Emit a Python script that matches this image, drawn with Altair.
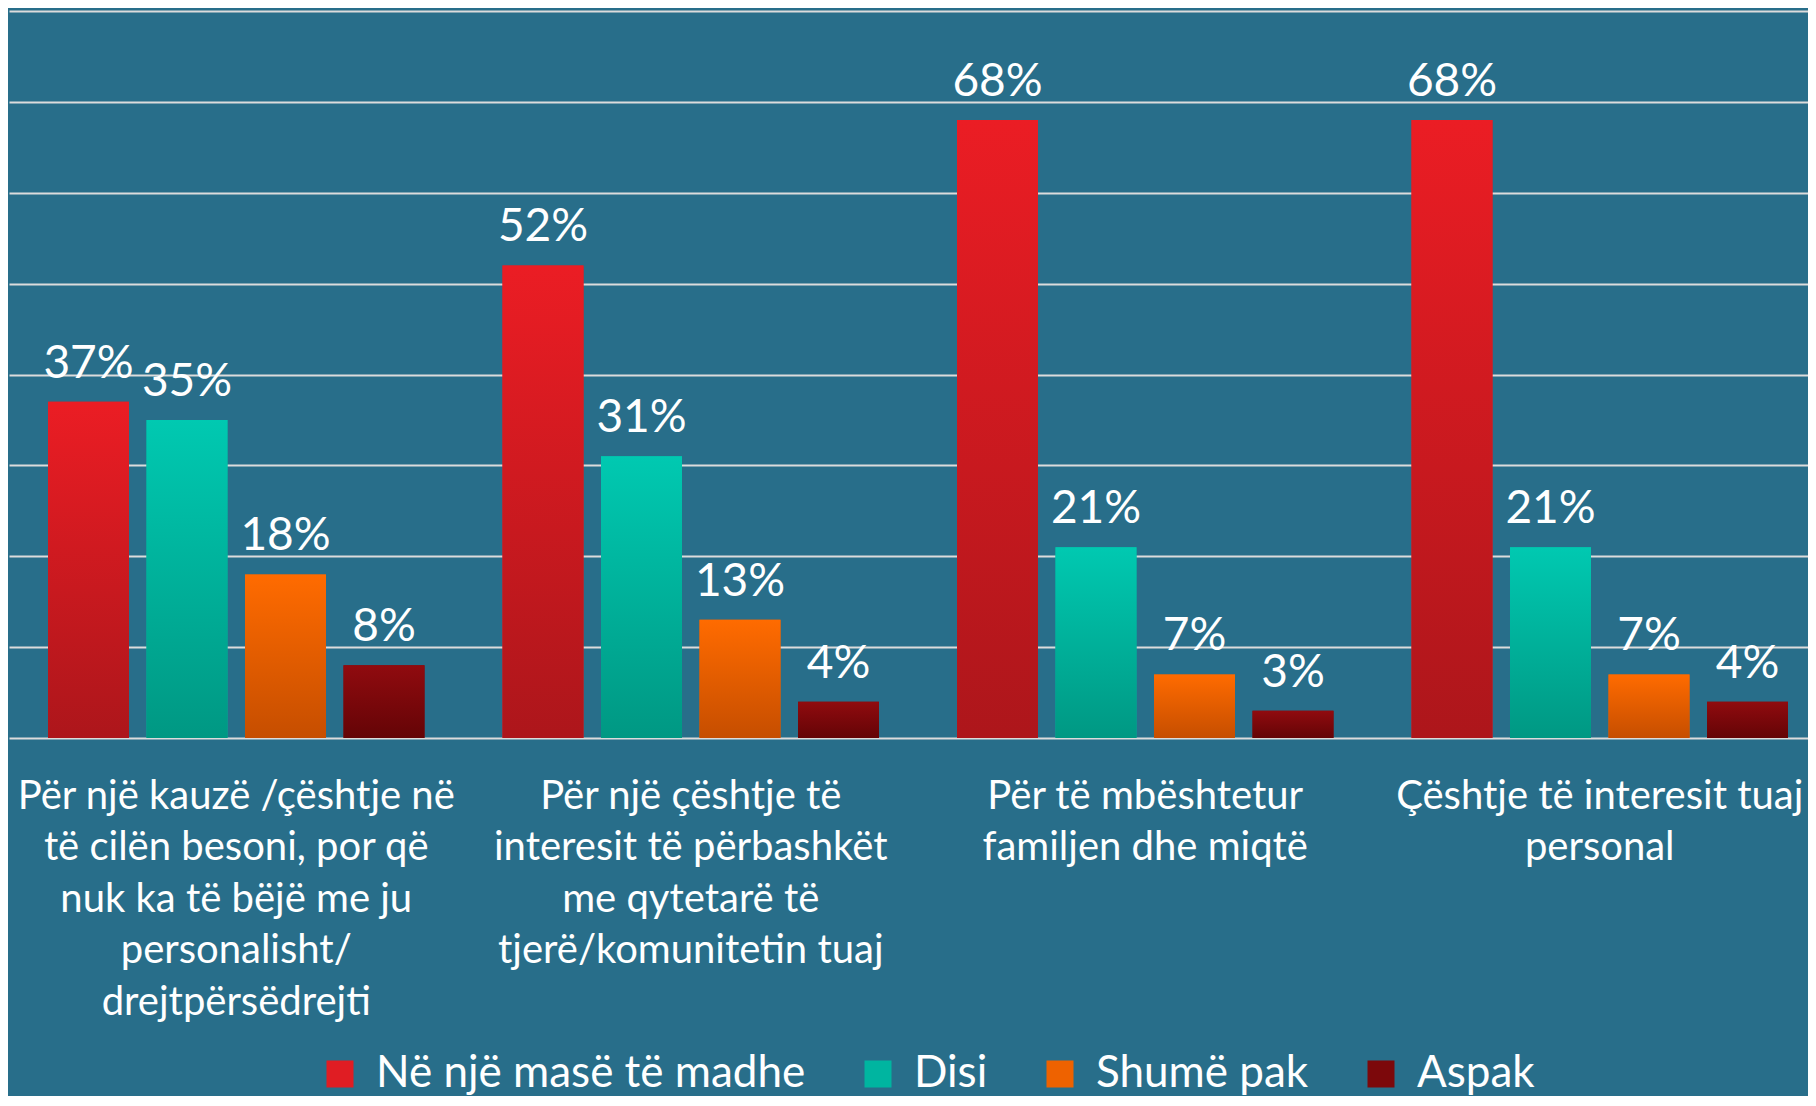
import altair as alt
import pandas as pd

categories = [
    "Për një kauzë /çështje në|të cilën besoni, por që|nuk ka të bëjë me ju|personalisht/|drejtpërsëdrejti",
    "Për një çështje të|interesit të përbashkët|me qytetarë të|tjerë/komunitetin tuaj",
    "Për të mbështetur|familjen dhe miqtë",
    "Çështje të interesit tuaj|personal",
]
series = ["Në një masë të madhe", "Disi", "Shumë pak", "Aspak"]
v_madhe = [37, 52, 68, 68]
v_disi = [35, 31, 21, 21]
v_pak = [18, 13, 7, 7]
v_aspak = [8, 4, 3, 4]
values = [v_madhe, v_disi, v_pak, v_aspak]

solid = ["#e01d23", "#00b5a0", "#ee6200", "#7c080b"]
grad_top = ["#eb1d24", "#00c9b1", "#ff6b00", "#900b0f"]
grad_bot = ["#ad161b", "#009883", "#c64e00", "#640406"]

rows = []
for s, vals in zip(series, values):
    for c, v in zip(categories, vals):
        rows.append({"category": c, "series": s, "value": v / 100, "label": f"{v}%"})
df = pd.DataFrame(rows)

FONT = "Lato"

x_enc = alt.X(
    "category:N",
    sort=categories,
    scale=alt.Scale(domain=categories, range=[0, 1818], paddingInner=0, paddingOuter=0),
    axis=alt.Axis(
        title=None,
        labelExpr="split(datum.label, '|')",
        labelAngle=0,
        labelFont=FONT,
        labelFontSize=40,
        labelColor="white",
        labelLineHeight=51.6,
        labelPadding=38,
        labelBaseline="top",
        labelLimit=1000,
        ticks=False,
        tickSize=0,
        domain=False,
        grid=False,
    ),
)
y_enc = alt.Y(
    "value:Q",
    scale=alt.Scale(domain=[0, 0.8], nice=False),
    axis=alt.Axis(
        title=None,
        labels=False,
        ticks=False,
        domain=False,
        grid=True,
        gridColor="#dcdcdc",
        gridWidth=2,
        values=[0, 0.1, 0.2, 0.3, 0.4, 0.5, 0.6, 0.7, 0.8],
    ),
)
xo_enc = alt.XOffset(
    "series:N",
    sort=series,
    scale=alt.Scale(domain=series, paddingInner=0.178, paddingOuter=0.396),
)

base = alt.Chart(df).mark_bar().encode(
    x=x_enc,
    y=y_enc,
    xOffset=xo_enc,
    color=alt.Color(
        "series:N",
        sort=series,
        scale=alt.Scale(domain=series, range=solid),
        legend=alt.Legend(
            title=None,
            orient="none",
            direction="horizontal",
            legendX=309,
            legendY=1041,
            symbolType="square",
            symbolSize=729,
            symbolStrokeWidth=0,
            labelFont=FONT,
            labelFontSize=44,
            labelColor="white",
            labelOffset=14,
            labelLimit=1000,
            columnPadding=50,
            padding=0,
        ),
    ),
)

layers = [base]
for s, top, bot in zip(series, grad_top, grad_bot):
    layers.append(
        alt.Chart(df)
        .transform_filter(alt.datum.series == s)
        .mark_bar(
            color=alt.Gradient(
                gradient="linear",
                stops=[alt.GradientStop(color=top, offset=0), alt.GradientStop(color=bot, offset=1)],
                x1=0, x2=0, y1=0, y2=1,
            )
        )
        .encode(x=x_enc, y=y_enc, xOffset=xo_enc)
    )

text = alt.Chart(df).mark_text(
    font=FONT, fontSize=46, color="white", baseline="alphabetic", dy=-24
).encode(x=x_enc, y=y_enc, xOffset=xo_enc, text="label:N")
layers.append(text)

chart = (
    alt.layer(*layers)
    .properties(
        width=1798,
        height=727,
        background="#286e8a",
        padding={"left": 1, "top": 3, "right": 1, "bottom": 358},
        autosize=alt.AutoSizeParams(type="none"),
    )
    .configure_view(stroke=None)
)

chart.save("out.html", embed_options={"renderer": "svg", "actions": False})
